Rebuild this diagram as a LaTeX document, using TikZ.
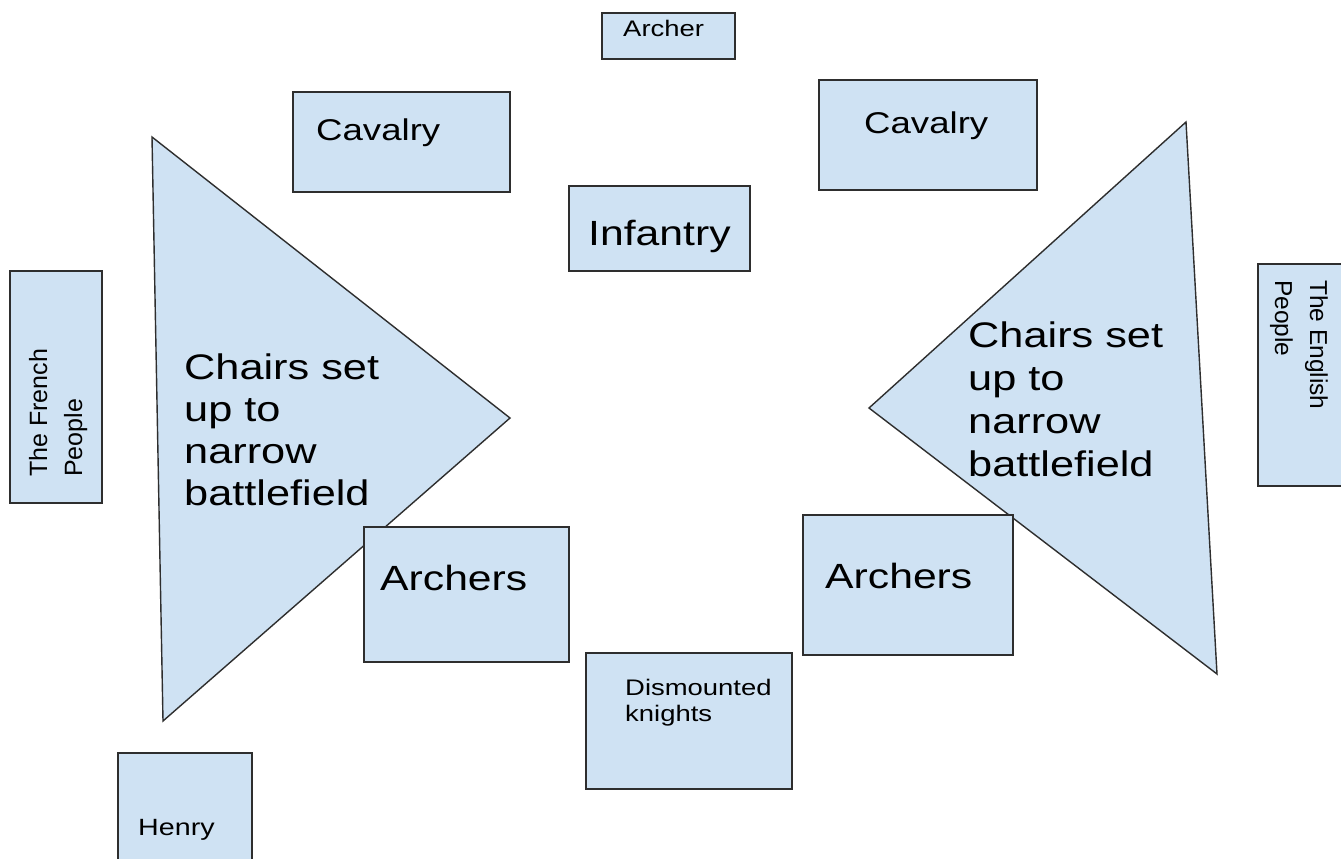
\documentclass[tikz,border=0pt]{standalone}
\usepackage{fontspec}
\setmainfont{Liberation Sans}
\newfontfamily\wf[FakeStretch=1.22]{Liberation Sans}
\definecolor{fillb}{HTML}{CFE2F3}
\definecolor{edgec}{HTML}{2E2E2E}
\newcommand\fs[2]{\fontsize{#1}{#2}\selectfont}
\newcommand\gbox[5]{\node[gbx, anchor=north west, minimum width={#4-#2}, minimum height={#5-#3}] (#1) at (#2,#3) {};}
\begin{document}
\begin{tikzpicture}[x=1pt,y=-1pt,
  gbx/.style={draw=edgec, fill=fillb, line width=1.4pt, inner sep=0pt, outer sep=0pt},
  tri/.style={draw=edgec, fill=fillb, line width=1.4pt, line join=miter},
  txt/.style={inner sep=0pt, anchor=base west, text=black}]
\useasboundingbox (0,0) rectangle (1341,859);
\clip (0,0) rectangle (1341,859);
\fill[white] (0,0) rectangle (1341,859);
% triangles
\coordinate (lt1) at (152,137); \coordinate (lt2) at (510,418); \coordinate (lt3) at (163,721);
\coordinate (rt1) at (1186,122); \coordinate (rt2) at (869,408); \coordinate (rt3) at (1217,674);
\draw[tri] (lt1) -- (lt2) -- (lt3) -- cycle;
\draw[tri] (rt1) -- (rt2) -- (rt3) -- cycle;
% boxes
\gbox{archer}{602}{13}{735}{59}
\gbox{cavL}{293}{92}{510}{192}
\gbox{cavR}{819}{80}{1037}{190}
\gbox{inf}{569}{186}{750}{271}
\gbox{french}{10}{271}{102}{503}
\gbox{english}{1258}{264}{1360}{486}
\gbox{archL}{364}{527}{569}{662}
\gbox{archR}{803}{515}{1013}{655}
\gbox{dism}{586}{653}{792}{789}
\gbox{henry}{118}{753}{252}{880}
% texts
\node[txt, font=\wf\fs{22.5}{26}] (tArcher) at (623,37) {Archer};
\node[txt, font=\wf\fs{30}{35}] (tCavL) at (316,140) {Cavalry};
\node[txt, font=\wf\fs{30}{35}] (tCavR) at (864,133) {Cavalry};
\node[txt, font=\wf\fs{35}{40}] (tInf) at (588,245) {Infantry};
\node[txt, font=\wf\fs{35}{40}] (tArchL) at (380,590) {Archers};
\node[txt, font=\wf\fs{35}{40}] (tArchR) at (825,588) {Archers};
\node[txt, font=\wf\fs{22.5}{26}] (tDism) at (625,695) {\vtop{\hbox{Dismounted}\hbox{knights}}};
\node[txt, font=\wf\fs{23.5}{27}] (tHenry) at (138,835) {Henry};
\node[txt, font=\wf\fs{35.5}{42}] (tChL) at (184,379) {\vtop{\hbox{Chairs set}\hbox{up to}\hbox{narrow}\hbox{battlefield}}};
\node[txt, font=\wf\fs{35.5}{43}] (tChR) at (968,347) {\vtop{\hbox{Chairs set}\hbox{up to}\hbox{narrow}\hbox{battlefield}}};
\node[txt, rotate=90, font=\fs{25}{35}] (tFr) at (47,477) {\vtop{\hbox{The French}\hbox{People}}};
\node[txt, rotate=-90, font=\fs{24.5}{35}] (tEn) at (1310,280) {\vtop{\hbox{The English}\hbox{People}}};
\end{tikzpicture}
\end{document}
